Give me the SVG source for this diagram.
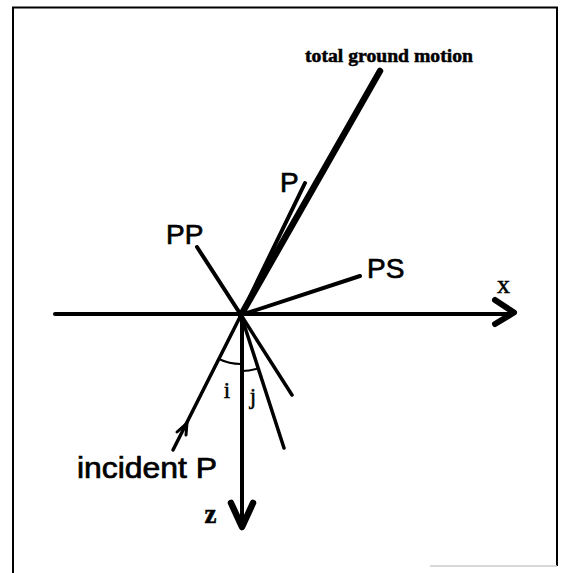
<svg xmlns="http://www.w3.org/2000/svg" width="565" height="573" viewBox="0 0 565 573">
<style>
.ln{stroke:#000;fill:none;stroke-linecap:round;stroke-linejoin:round}
.sans{font-family:"Liberation Sans",Arial,sans-serif;fill:#000;stroke:#000;stroke-width:0.7}
.serif{font-family:"Liberation Serif","Times New Roman",serif;fill:#000;stroke:#000;stroke-width:0.5}
</style>
<rect width="565" height="573" fill="#fff"/>
<g id="frame">
<path d="M13,573 V7.5 H557 V566" fill="none" stroke="#000" stroke-width="2"/>
<path d="M430,566 H557" fill="none" stroke="#ccc" stroke-width="1.5"/>
</g>
<g id="connectors">
<g id="x-axis">
<path class="ln" d="M55,314 H512" stroke-width="4"/>
<path class="ln" d="M495,300 L514,312.5 L495,324" stroke-width="6"/>
</g>
<g id="z-axis">
<path class="ln" d="M242,315 V525" stroke-width="4"/>
<path class="ln" d="M231,503 L242,527 L253,503" stroke-width="6.5"/>
</g>
<path id="total-ray" class="ln" d="M241,315 L380,71" stroke-width="6.5"/>
<path id="p-ray" class="ln" d="M241,315 L305,183" stroke-width="4"/>
<path id="pp-ray" class="ln" d="M241,315 L197,247" stroke-width="4"/>
<path id="ps-ray" class="ln" d="M241,315 L360,276" stroke-width="4"/>
<path id="incident-ray" class="ln" d="M173,450 L241,315" stroke-width="3.5"/>
<path id="incident-arrow" class="ln" d="M177,432 L187,423 L186,435" stroke-width="3"/>
<path id="refl-ray" class="ln" d="M241,315 L292,395" stroke-width="3.5"/>
<path id="trans-ray" class="ln" d="M241,315 L284,448" stroke-width="3.5"/>
<path id="arc-i" class="ln" d="M219,359 A49,49 0 0,0 241,364" stroke-width="2"/>
<path id="arc-j" class="ln" d="M242,371 A56,56 0 0,0 258,368.5" stroke-width="2"/>
</g>
<g id="label-total"><text class="serif" x="305" y="62" font-size="18" font-weight="bold" textLength="168" lengthAdjust="spacingAndGlyphs">total ground motion</text></g>
<g id="label-P"><text class="sans" x="280" y="192" font-size="28">P</text></g>
<g id="label-PP"><text class="sans" x="166" y="244" font-size="28">PP</text></g>
<g id="label-PS"><text class="sans" x="367" y="278" font-size="28">PS</text></g>
<g id="label-x"><text class="serif" x="503.5" y="293" font-size="26" text-anchor="middle">x</text></g>
<g id="label-z"><text class="serif" x="210.5" y="523" font-size="27" font-weight="bold" text-anchor="middle">z</text></g>
<g id="label-i"><text class="serif" x="227" y="398" font-size="23" text-anchor="middle">i</text></g>
<g id="label-j"><text class="serif" x="253" y="404" font-size="23" text-anchor="middle">j</text></g>
<g id="label-incident"><text class="sans" x="77" y="478" font-size="29" textLength="140" lengthAdjust="spacingAndGlyphs">incident P</text></g>
</svg>
